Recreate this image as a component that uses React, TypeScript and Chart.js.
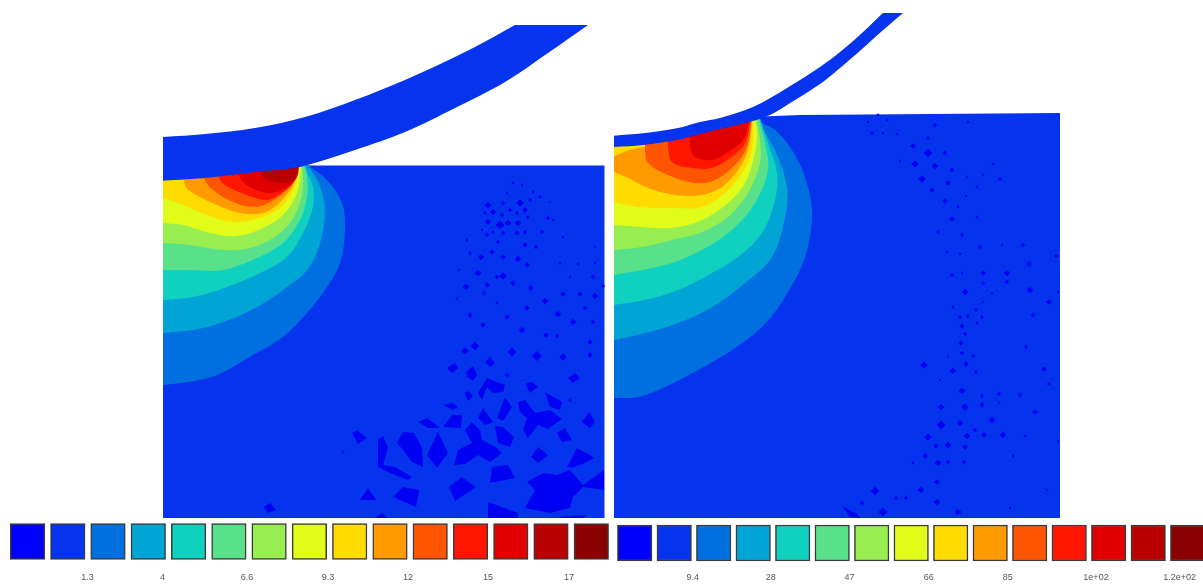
import React, { useEffect, useRef } from "react";
import { Chart, registerables } from "chart.js";

Chart.register(...registerables);

type P = [number, number];
type S = [number, number, number];

// Colour levels of the contour scale
const levelColors = ["#0000ff", "#0634ee", "#0070e0", "#00a5d5", "#10d0c0", "#58e08a", "#98ee50", "#e0fc18", "#ffdc00", "#ff9a00", "#ff5500", "#ff1500", "#e00000", "#b80000", "#8b0000"];

// Legend
const legendLeftCenters = [27.5, 67.8, 108, 148.3, 188.6, 228.9, 269.1, 309.4, 349.7, 390, 430.2, 470.5, 510.8, 551, 591.3];
const legendRightCenters = [634.7, 674.2, 713.7, 753.2, 792.7, 832.2, 871.7, 911.2, 950.7, 990.2, 1029.7, 1069.2, 1108.7, 1148.2, 1187.7];
const tickPositions = [87.5, 162.6, 247, 328, 408, 488, 569, 692.7, 770.8, 849.6, 928.8, 1007.7, 1096, 1179.6];
const tickLabels = ["1.3", "4", "6.6", "9.3", "12", "15", "17", "9.4", "28", "47", "66", "85", "1e+02", "1.2e+02"];

// Left panel
const leftPlate: P[] = [[163, 165.5], [604.5, 165.5], [604.5, 518], [163, 518]];
const leftWheel: P[] = [[163, 137], [205, 134], [255, 128], [305, 117], [355, 100], [405, 80], [455, 57], [488, 40], [515, 25], [515, 25], [588, 25], [588, 25], [548, 53], [505, 82], [455, 108], [405, 132], [355, 150], [302, 166.5], [283, 169.3], [250, 172.7], [217, 176.7], [187, 179.3], [163, 180.7]];
const leftL2: P[] = [[163, 385], [190, 381.7], [217, 375], [250, 356.7], [283, 336.7], [307, 313], [327, 287], [340, 263], [345, 230], [342, 203], [327, 180], [310, 166.7], [303, 160], [303, 160], [163, 160]];
const leftL3: P[] = [[163, 333], [193, 330], [223, 322], [257, 307], [283, 290], [307, 270], [320, 243], [325, 210], [320, 187], [313, 173], [303, 160], [303, 160], [163, 160]];
const leftL4: P[] = [[163, 300], [193, 297], [227, 287], [260, 273], [287, 257], [303, 233], [313, 207], [313, 187], [307, 172], [303, 160], [303, 160], [163, 160]];
const leftL5: P[] = [[163, 270], [190, 270], [223, 270], [257, 258], [283, 243], [300, 220], [307, 197], [307, 177], [303, 160], [303, 160], [163, 160]];
const leftL6: P[] = [[163, 243], [190, 245], [223, 250], [250, 248], [273, 238], [290, 223], [300, 203], [303, 183], [302, 160], [302, 160], [163, 160]];
const leftL7: P[] = [[163, 223], [183, 225], [210, 233], [237, 236], [263, 228], [283, 215], [297, 193], [302, 160], [302, 160], [163, 160]];
const leftL8: P[] = [[163, 198], [183, 205], [207, 215], [233, 222], [260, 218], [280, 208], [293, 190], [301, 160], [301, 160], [163, 160]];
const leftL9: P[] = [[185, 170], [185, 185], [193, 193], [217, 205], [240, 213], [263, 213], [280, 202], [293, 185], [300, 160]];
const leftL10: P[] = [[203, 170], [205, 180], [213, 190], [233, 202], [257, 207], [277, 198], [292, 183], [299, 160]];
const leftL11: P[] = [[218, 170], [220, 180], [230, 188], [247, 195], [267, 200], [283, 192], [295, 180], [299, 160]];
const leftL12: P[] = [[237, 165], [240, 178], [250, 187], [270, 193], [287, 187], [297, 177], [299, 160]];
const leftL13: P[] = [[260, 165], [262, 174], [267, 180], [283, 183], [293, 180], [298, 172], [298, 160]];
const leftLevels: [number, P[]][] = [[2, leftL2], [3, leftL3], [4, leftL4], [5, leftL5], [6, leftL6], [7, leftL7], [8, leftL8], [9, leftL9], [10, leftL10], [11, leftL11], [12, leftL12], [13, leftL13]];

const leftCells: P[][] = [
  [[448, 367], [455, 363], [458, 368], [453, 373], [448, 370]],
  [[466, 372], [473, 366], [477, 375], [473, 381], [467, 377]],
  [[485, 362], [490, 358], [495, 363], [490, 367]],
  [[465, 393], [468, 391], [473, 396], [468, 401]],
  [[478, 393], [487, 378], [497, 382], [505, 385], [503, 392], [493, 393], [487, 387], [482, 400]],
  [[525, 383], [532, 382], [538, 387], [530, 393]],
  [[545, 392], [562, 402], [560, 410], [550, 407]],
  [[568, 378], [575, 373], [580, 378], [573, 383]],
  [[518, 402], [525, 400], [535, 413], [550, 410], [562, 419], [548, 429], [538, 425], [528, 438], [523, 430], [527, 418], [520, 412]],
  [[505, 397], [512, 407], [503, 421], [497, 418]],
  [[478, 418], [483, 408], [493, 422], [485, 425]],
  [[495, 426], [503, 427], [514, 437], [510, 447], [498, 443]],
  [[557, 433], [565, 428], [572, 440], [562, 442]],
  [[582, 422], [589, 412], [595, 422], [590, 428]],
  [[465, 430], [472, 422], [480, 430], [482, 440], [497, 448], [502, 453], [490, 462], [478, 455], [465, 464], [454, 465], [458, 450], [472, 443]],
  [[418, 422], [427, 418], [440, 428], [428, 428]],
  [[443, 427], [452, 415], [462, 415], [461, 428]],
  [[443, 405], [453, 403], [458, 407], [453, 410]],
  [[438, 432], [448, 453], [437, 468], [427, 455]],
  [[397, 443], [403, 432], [414, 433], [422, 448], [423, 467], [412, 462], [403, 450]],
  [[352, 433], [357, 430], [367, 438], [358, 444]],
  [[378, 440], [383, 436], [388, 448], [383, 465], [395, 467], [412, 477], [408, 480], [390, 473], [378, 467]],
  [[360, 500], [368, 488], [376, 500]],
  [[393, 497], [403, 487], [419, 490], [416, 507]],
  [[449, 487], [462, 477], [476, 487], [455, 501]],
  [[492, 467], [508, 465], [515, 478], [490, 483]],
  [[531, 457], [538, 447], [548, 455], [538, 463]],
  [[567, 467], [577, 448], [595, 458], [580, 465], [572, 468]],
  [[527, 482], [543, 473], [557, 475], [570, 470], [583, 485], [604, 470], [604, 490], [583, 487], [573, 497], [570, 508], [550, 513], [525, 508], [535, 490]],
  [[488, 502], [518, 513], [518, 518], [488, 518]],
  [[375, 518], [382, 513], [388, 518]],
  [[560, 517], [587, 515], [583, 518], [560, 518]],
  [[264, 507], [270, 503], [276, 510], [268, 513]],
];

const leftSpecks: S[] = [[488, 205, 3], [493, 212, 3], [485, 213, 2], [488, 222, 3], [500, 225, 4], [508, 223, 3], [518, 223, 3], [520, 203, 3.5], [530, 200, 2], [525, 210, 2.5], [510, 210, 2], [502, 215, 2], [517, 213, 2], [528, 217, 2], [503, 203, 2], [507, 193, 1.5], [522, 185, 1.5], [513, 183, 1.5], [533, 192, 1.5], [540, 197, 1.5], [550, 202, 1], [548, 218, 2], [553, 220, 1.5], [542, 232, 2], [525, 232, 2], [517, 233, 2.5], [503, 233, 2], [487, 235, 2], [482, 230, 1.5], [493, 232, 1.5], [563, 237, 1.5], [467, 240, 1.5], [498, 242, 2], [525, 245, 2.5], [536, 247, 2], [492, 252, 2.5], [470, 253, 2], [481, 257, 3], [503, 257, 2.5], [518, 259, 3], [527, 265, 2.5], [560, 263, 1.5], [578, 264, 1.5], [595, 263, 1.5], [595, 247, 1], [459, 270, 1.5], [478, 273, 3], [503, 276, 3.5], [497, 277, 2], [593, 277, 2], [570, 277, 1.5], [513, 283, 2.5], [466, 287, 3], [487, 285, 2.5], [531, 288, 2.5], [603, 286, 2], [563, 294, 2.5], [580, 294, 2.5], [595, 296, 3], [484, 293, 2], [457, 299, 1.5], [545, 301, 3], [497, 303, 1.5], [527, 308, 2.5], [585, 308, 2], [470, 315, 2.5], [558, 314, 3], [507, 317, 2.5], [573, 322, 3], [593, 322, 2], [483, 325, 2.5], [522, 330, 3], [546, 335, 2.5], [557, 336, 2], [590, 342, 2.5], [475, 346, 4], [465, 351, 3.5], [512, 352, 4], [537, 356, 4.5], [563, 357, 3.5], [590, 355, 2.5], [490, 359, 2], [507, 375, 2], [570, 400, 2], [343, 452, 1.5]];

// Right panel
const rightPlate: P[] = [[750, 117], [800, 115], [1060, 113], [1060, 518], [614, 518], [614, 140]];
const rightWheel: P[] = [[614, 135.7], [643, 133.3], [677, 128.3], [700, 122], [720, 118], [753, 107], [787, 88], [820, 67], [840, 52], [862, 33], [883, 13], [883, 13], [903, 13], [903, 13], [882, 31], [862, 49], [840, 68], [820, 84], [787, 105], [770, 115], [753, 121], [720, 129], [700, 134], [677, 140], [643, 145], [614, 147]];
const rightL2: P[] = [[614, 398], [638, 397], [665, 387], [698, 370], [732, 350], [762, 327], [785, 297], [805, 257], [812, 213], [805, 177], [792, 150], [775, 130], [758, 120], [758, 112], [758, 112], [614, 142]];
const rightL3: P[] = [[614, 340], [645, 333], [678, 323], [712, 307], [745, 283], [772, 257], [785, 217], [787, 187], [775, 150], [762, 127], [758, 112], [758, 112], [614, 142]];
const rightL4: P[] = [[614, 305], [645, 300], [678, 290], [712, 273], [738, 257], [762, 233], [775, 200], [777, 173], [768, 143], [758, 112], [758, 112], [614, 142]];
const rightL5: P[] = [[614, 275], [642, 270], [672, 263], [702, 250], [732, 230], [755, 203], [768, 170], [765, 143], [757, 112], [757, 112], [614, 142]];
const rightL6: P[] = [[614, 250], [642, 247], [672, 240], [702, 232], [728, 217], [748, 193], [760, 163], [760, 140], [755, 112], [755, 112], [614, 142]];
const rightL7: P[] = [[614, 225], [642, 227], [672, 228], [702, 220], [728, 203], [745, 183], [755, 153], [757, 130], [753, 112], [753, 112], [614, 142]];
const rightL8: P[] = [[614, 202], [638, 207], [672, 208], [702, 207], [725, 193], [742, 173], [752, 150], [753, 112], [753, 112], [614, 142]];
const rightL9: P[] = [[614, 172], [628, 178], [648, 188], [675, 195], [702, 195], [722, 187], [738, 170], [748, 150], [752, 120], [752, 120], [650, 146], [650, 146], [630, 150], [614, 156]];
const rightL10: P[] = [[645, 150], [648, 163], [668, 175], [695, 183], [715, 180], [735, 165], [747, 147], [752, 118], [752, 118], [645, 140]];
const rightL11: P[] = [[668, 148], [672, 162], [692, 168], [712, 168], [730, 158], [745, 143], [751, 118], [751, 118], [668, 135]];
const rightL12: P[] = [[690, 147], [695, 157], [712, 160], [728, 152], [743, 140], [750, 118], [750, 118], [690, 130]];
const rightLevels: [number, P[]][] = [[2, rightL2], [3, rightL3], [4, rightL4], [5, rightL5], [6, rightL6], [7, rightL7], [8, rightL8], [9, rightL9], [10, rightL10], [11, rightL11], [12, rightL12]];
const rightCells: P[][] = [[[842, 506], [857, 514], [860, 518], [850, 517]]];
const rightContactSpecks: S[] = [[772, 119, 2], [779, 122, 2.5], [768, 124, 1.5]];

const rightSpecks: S[] = [[878, 115, 1.5], [868, 122, 1.5], [887, 120, 1.5], [872, 133, 2], [883, 133, 1.5], [897, 134, 1.5], [935, 125, 2], [968, 122, 1.5], [928, 138, 2], [913, 146, 2.5], [928, 153, 4], [945, 153, 2], [915, 164, 3.5], [935, 166, 3], [900, 161, 1.5], [952, 170, 2], [922, 179, 3.5], [948, 183, 2.5], [932, 190, 2.5], [967, 177, 1.5], [977, 187, 1.5], [993, 164, 1.5], [1000, 179, 2], [983, 175, 1.5], [945, 201, 2.5], [958, 207, 1.5], [966, 196, 1.5], [952, 219, 2.5], [977, 217, 1.5], [938, 232, 2], [962, 235, 2], [980, 247, 2], [1002, 245, 1.5], [1023, 245, 2], [947, 252, 1.5], [960, 254, 1.5], [1056, 256, 2.5], [1029, 264, 2.5], [1007, 273, 3], [983, 273, 2.5], [952, 275, 2], [962, 273, 1.5], [983, 283, 2], [1007, 282, 2], [965, 292, 3], [1030, 290, 3], [992, 293, 1.5], [1049, 302, 2.5], [1058, 292, 1.5], [983, 302, 1.5], [976, 310, 2], [953, 307, 1.5], [1033, 315, 2], [960, 317, 2], [968, 316, 2], [982, 317, 2], [962, 326, 2.5], [977, 323, 1.5], [965, 334, 2], [961, 343, 2.5], [1026, 347, 2], [962, 353, 2], [973, 356, 2], [948, 357, 1.5], [924, 365, 3.5], [966, 364, 2.5], [953, 371, 3], [976, 372, 2], [1044, 369, 2.5], [1049, 384, 2], [940, 380, 1.5], [962, 391, 3], [982, 396, 2], [999, 394, 2], [1020, 395, 2], [941, 407, 3], [965, 407, 3.5], [982, 405, 2.5], [999, 403, 1.5], [1035, 412, 2.5], [992, 420, 3], [941, 425, 4], [960, 423, 3], [975, 430, 2], [928, 437, 3.5], [967, 436, 3], [984, 435, 2.5], [1003, 435, 3], [1025, 436, 1.5], [1058, 441, 1.5], [936, 446, 2.5], [948, 445, 3], [965, 447, 2.5], [925, 456, 2.5], [1013, 456, 1.5], [938, 463, 3], [948, 462, 2], [964, 462, 2], [913, 463, 1.5], [937, 482, 2.5], [875, 491, 4], [921, 490, 3], [896, 498, 2], [906, 498, 2], [937, 502, 3], [862, 503, 2], [883, 512, 4], [958, 512, 3], [1010, 508, 1.5], [1047, 490, 1.5]];

const cellColor = "#0000f2";

const polygon = (pts: P[], color: string, tension = 0) => ({
  type: "line" as const,
  data: pts.map(([x, y]) => ({ x, y })),
  backgroundColor: color,
  borderColor: color,
  borderWidth: 0,
  pointRadius: 0,
  fill: "shape",
  tension,
});

const specks = (pts: S[], color = cellColor) => ({
  type: "line" as const,
  data: pts.map(([x, y]) => ({ x, y })),
  showLine: false,
  pointStyle: "rectRot",
  pointRadius: pts.map((p) => p[2] * 1.1),
  pointBackgroundColor: color,
  pointBorderWidth: 0,
  fill: false,
});

const swatches = (centers: number[], top: number, bottom: number) => ({
  type: "bar" as const,
  data: centers.map((x) => ({ x, y: [top, bottom] })),
  backgroundColor: levelColors,
  borderColor: "#3a3a3a",
  borderWidth: 1.5,
  borderSkipped: false,
  barThickness: 34.5,
  grouped: false,
});

export default function App() {
  const ref = useRef<HTMLCanvasElement>(null);
  useEffect(() => {
    const painted: any[] = [
      polygon(leftPlate, levelColors[1]),
      ...leftLevels.map(([lvl, pts]) => polygon(pts, levelColors[lvl], 0.35)),
      ...leftCells.map((pts) => polygon(pts, cellColor)),
      specks(leftSpecks),
      polygon(leftWheel, levelColors[1], 0.35),
      polygon(rightPlate, levelColors[1]),
      ...rightLevels.map(([lvl, pts]) => polygon(pts, levelColors[lvl], 0.35)),
      ...rightCells.map((pts) => polygon(pts, cellColor)),
      specks(rightSpecks),
      specks(rightContactSpecks, levelColors[1]),
      polygon(rightWheel, levelColors[1], 0.35),
      swatches(legendLeftCenters, 523.5, 559.5),
      swatches(legendRightCenters, 525, 561),
    ];
    painted.forEach((d, i) => (d.order = painted.length - i));
    const chart = new Chart(ref.current!, {
      type: "line",
      data: { datasets: painted },
      options: {
        responsive: false,
        animation: false,
        events: [],
        layout: { padding: 0, autoPadding: false },
        plugins: { legend: { display: false }, tooltip: { enabled: false }, title: { display: false } },
        scales: {
          x: {
            type: "linear",
            min: 0,
            max: 1203,
            offset: false,
            grid: { display: false, drawTicks: false, offset: false },
            border: { display: false },
            afterBuildTicks: (s: any) => {
              s.ticks = tickPositions.map((value) => ({ value }));
            },
            afterFit: (s: any) => {
              s.height = 13;
              s.paddingLeft = 0;
              s.paddingRight = 0;
            },
            ticks: {
              autoSkip: false,
              maxRotation: 0,
              padding: 0,
              color: "#555",
              font: { family: "Liberation Sans", size: 9 },
              callback: (_v: any, i: number) => tickLabels[i],
            },
          },
          y: { type: "linear", display: false, min: 0, max: 572, reverse: true },
        },
      } as any,
    });
    return () => chart.destroy();
  }, []);
  return (
    <canvas
      ref={ref}
      width={1203}
      height={585}
      style={{ position: "absolute", left: 0, top: 0, width: 1203, height: 585, display: "block", filter: "blur(0.6px)" }}
    />
  );
}
